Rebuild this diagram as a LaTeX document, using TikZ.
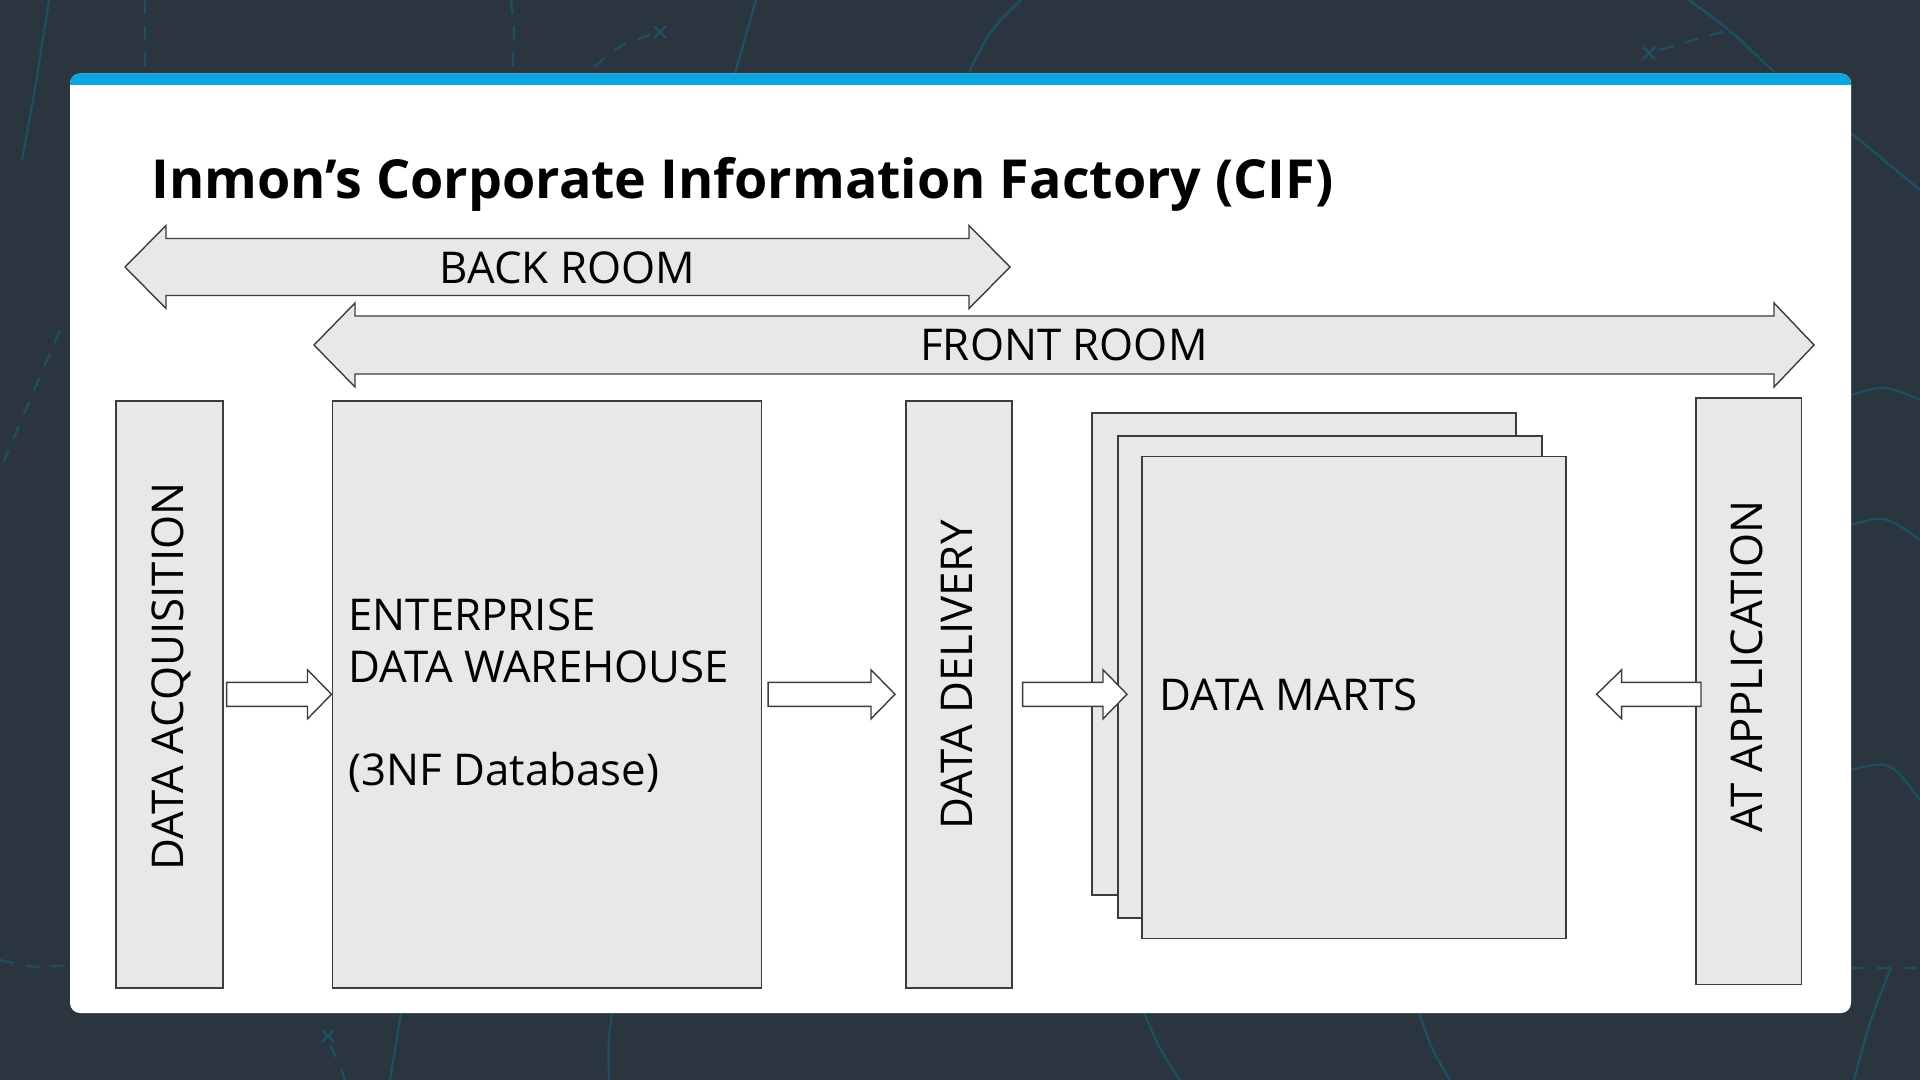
\documentclass[tikz,border=0pt]{standalone}
\usepackage{fontspec}
\setmainfont{Open Sans}
\usetikzlibrary{calc}
\definecolor{bgc}{RGB}{43,53,63}
\definecolor{decoc}{RGB}{30,80,100}
\definecolor{barc}{RGB}{10,166,221}
\definecolor{boxfill}{RGB}{232,232,232}
\definecolor{edgec}{RGB}{60,60,60}
\newcommand\rblk[2]{\draw[blk] #2 -- ++(-24,-24.5) -- ++(0,12.5) -- ($#1+(0,-12)$) -- ($#1+(0,12)$) -- ($#2+(-24,12)$) -- ++(0,12.5) -- cycle;}
\newcommand\lblk[2]{\draw[blk] #2 -- ++(25,-24.5) -- ++(0,12.5) -- ($#1+(0,-12)$) -- ($#1+(0,12)$) -- ($#2+(25,12)$) -- ++(0,12.5) -- cycle;}
\begin{document}
\begin{tikzpicture}[x=0.5pt,y=-0.5pt,
  box/.style={draw=edgec, fill=boxfill, line width=0.8pt, inner sep=0pt, anchor=north west},
  blk/.style={draw=edgec, fill=white, line width=0.7pt, line join=miter},
  dbl/.style={draw=edgec, fill=boxfill, line width=0.7pt, line join=miter},
  lbl/.style={font=\fontsize{21.9pt}{27pt}\selectfont, inner sep=0pt, text=black},
  decoline/.style={draw=decoc, line width=1.1pt},
  decodash/.style={draw=decoc, line width=1.1pt, dash pattern=on 7pt off 6pt},
]
\useasboundingbox (0,0) rectangle (1920,1080);
\fill[bgc] (0,0) rectangle (1920,1080);
% faint background decoration
\draw[decoline] (22,160) .. controls (35,90) .. (49,0);
\draw[decodash] (60,330) .. controls (30,400) .. (0,470);
\draw[decodash] (145,0) -- (145,73);
\draw[decodash] (511,0) .. controls (515,35) .. (512,73);
\draw[decodash] (594,67) .. controls (620,45) .. (650,35);
\draw[decoline] (654,26) -- (666,38) (666,26) -- (654,38);
\draw[decoline] (735,73) -- (756,0);
\draw[decoline] (969,72) .. controls (990,30) .. (1021,0);
\draw[decoline] (1689,0) .. controls (1730,30) .. (1774,72);
\draw[decoline] (1643,47) -- (1655,59) (1655,47) -- (1643,59);
\draw[decodash] (1660,50) -- (1728,30);
\draw[decoline] (1851,133) -- (1920,190);
\draw[decoline] (1851,395) .. controls (1885,385) .. (1920,400);
\draw[decoline] (1851,525) .. controls (1885,515) .. (1920,540);
\draw[decoline] (1851,770) .. controls (1890,760) .. (1920,800);
\draw[decodash] (1851,968) -- (1920,968);
\draw[decoline] (1891,968) .. controls (1870,1020) .. (1854,1080);
\draw[decodash] (0,960) .. controls (35,968) .. (70,965);
\draw[decoline] (322,1030) -- (334,1042) (334,1030) -- (322,1042);
\draw[decodash] (330,1045) .. controls (338,1060) .. (345,1080);
\draw[decoline] (401,1013) -- (390,1080);
\draw[decoline] (612,1013) .. controls (608,1045) .. (609,1080);
\draw[decoline] (1144,1013) .. controls (1160,1050) .. (1180,1080);
\draw[decoline] (1419,1013) .. controls (1432,1050) .. (1450,1080);
% card
\fill[white, rounded corners=5] (70,73.5) rectangle (1851,1013);
\begin{scope}
  \clip[rounded corners=5] (70,73.5) rectangle (1851,1013);
  \fill[barc] (70,73.5) rectangle (1851,85);
\end{scope}
% title
\node[font=\bfseries\fontsize{26.9pt}{31pt}\selectfont, anchor=base west, inner sep=0pt] (title) at (151,199) {Inmon’s Corporate Information Factory (CIF)};
% room arrows
\draw[dbl] (125,267) -- (166,225.5) -- (166,238.5) -- (969,238.5) -- (969,225.5) -- (1010,267) -- (969,308.5) -- (969,295.5) -- (166,295.5) -- (166,308.5) -- cycle;
\node[lbl, anchor=base] (back) at (567.5,283.5) {BACK ROOM};
\draw[dbl] (314,345) -- (355,303) -- (355,316) -- (1774,316) -- (1774,303) -- (1814,345) -- (1774,387) -- (1774,374) -- (355,374) -- (355,387) -- cycle;
\node[lbl, anchor=base] (front) at (1064,360) {FRONT ROOM};
% boxes
\node[box, minimum width=53.5pt, minimum height=293.5pt] (acq) at (115,400) {};
\node[box, minimum width=214.5pt, minimum height=293.5pt] (edw) at (331.5,400) {};
\node[box, minimum width=53pt, minimum height=293.5pt] (del) at (905,400) {};
\node[box, minimum width=52.75pt, minimum height=293.25pt] (app) at (1695,397) {};
\node[box, minimum width=212pt, minimum height=241pt] (mart1) at (1091,412) {};
\node[box, minimum width=212pt, minimum height=241pt] (mart2) at (1117,435) {};
\node[box, minimum width=212pt, minimum height=241pt] (mart3) at (1141,455.5) {};
% labels
\node[lbl, anchor=base, rotate=90] (acqt) at (183,676.5) {DATA ACQUISITION};
\node[lbl, anchor=base, rotate=90] (delt) at (972,675) {DATA DELIVERY};
\node[lbl, anchor=base, rotate=90] (appt) at (1762,666.5) {AT APPLICATION};
\node[lbl, anchor=base west] (edw1) at (348,630) {ENTERPRISE};
\node[lbl, anchor=base west] (edw2) at (348,682.5) {DATA WAREHOUSE};
\node[lbl, anchor=base west] (edw3) at (348,785.5) {(3NF Database)};
\node[lbl, anchor=base west] (martt) at (1159,710.5) {DATA MARTS};
% block arrows
\coordinate (a1s) at ($(acq.east)+(3,0)$);
\coordinate (a1e) at (edw.west);
\coordinate (a2s) at ($(edw.east)+(6,0)$);
\coordinate (a2e) at ($(del.west)+(-10,0)$);
\coordinate (a3s) at ($(del.east)+(10,0)$);
\coordinate (a3e) at ($(mart3.west |- del.east)+(-14,0)$);
\coordinate (a4s) at ($(app.west |- del.east)+(6,0)$);
\coordinate (a4e) at ($(mart3.east |- del.east)+(30,0)$);
\rblk{(a1s)}{(a1e)}
\rblk{(a2s)}{(a2e)}
\rblk{(a3s)}{(a3e)}
\lblk{(a4s)}{(a4e)}
\end{tikzpicture}
\end{document}
